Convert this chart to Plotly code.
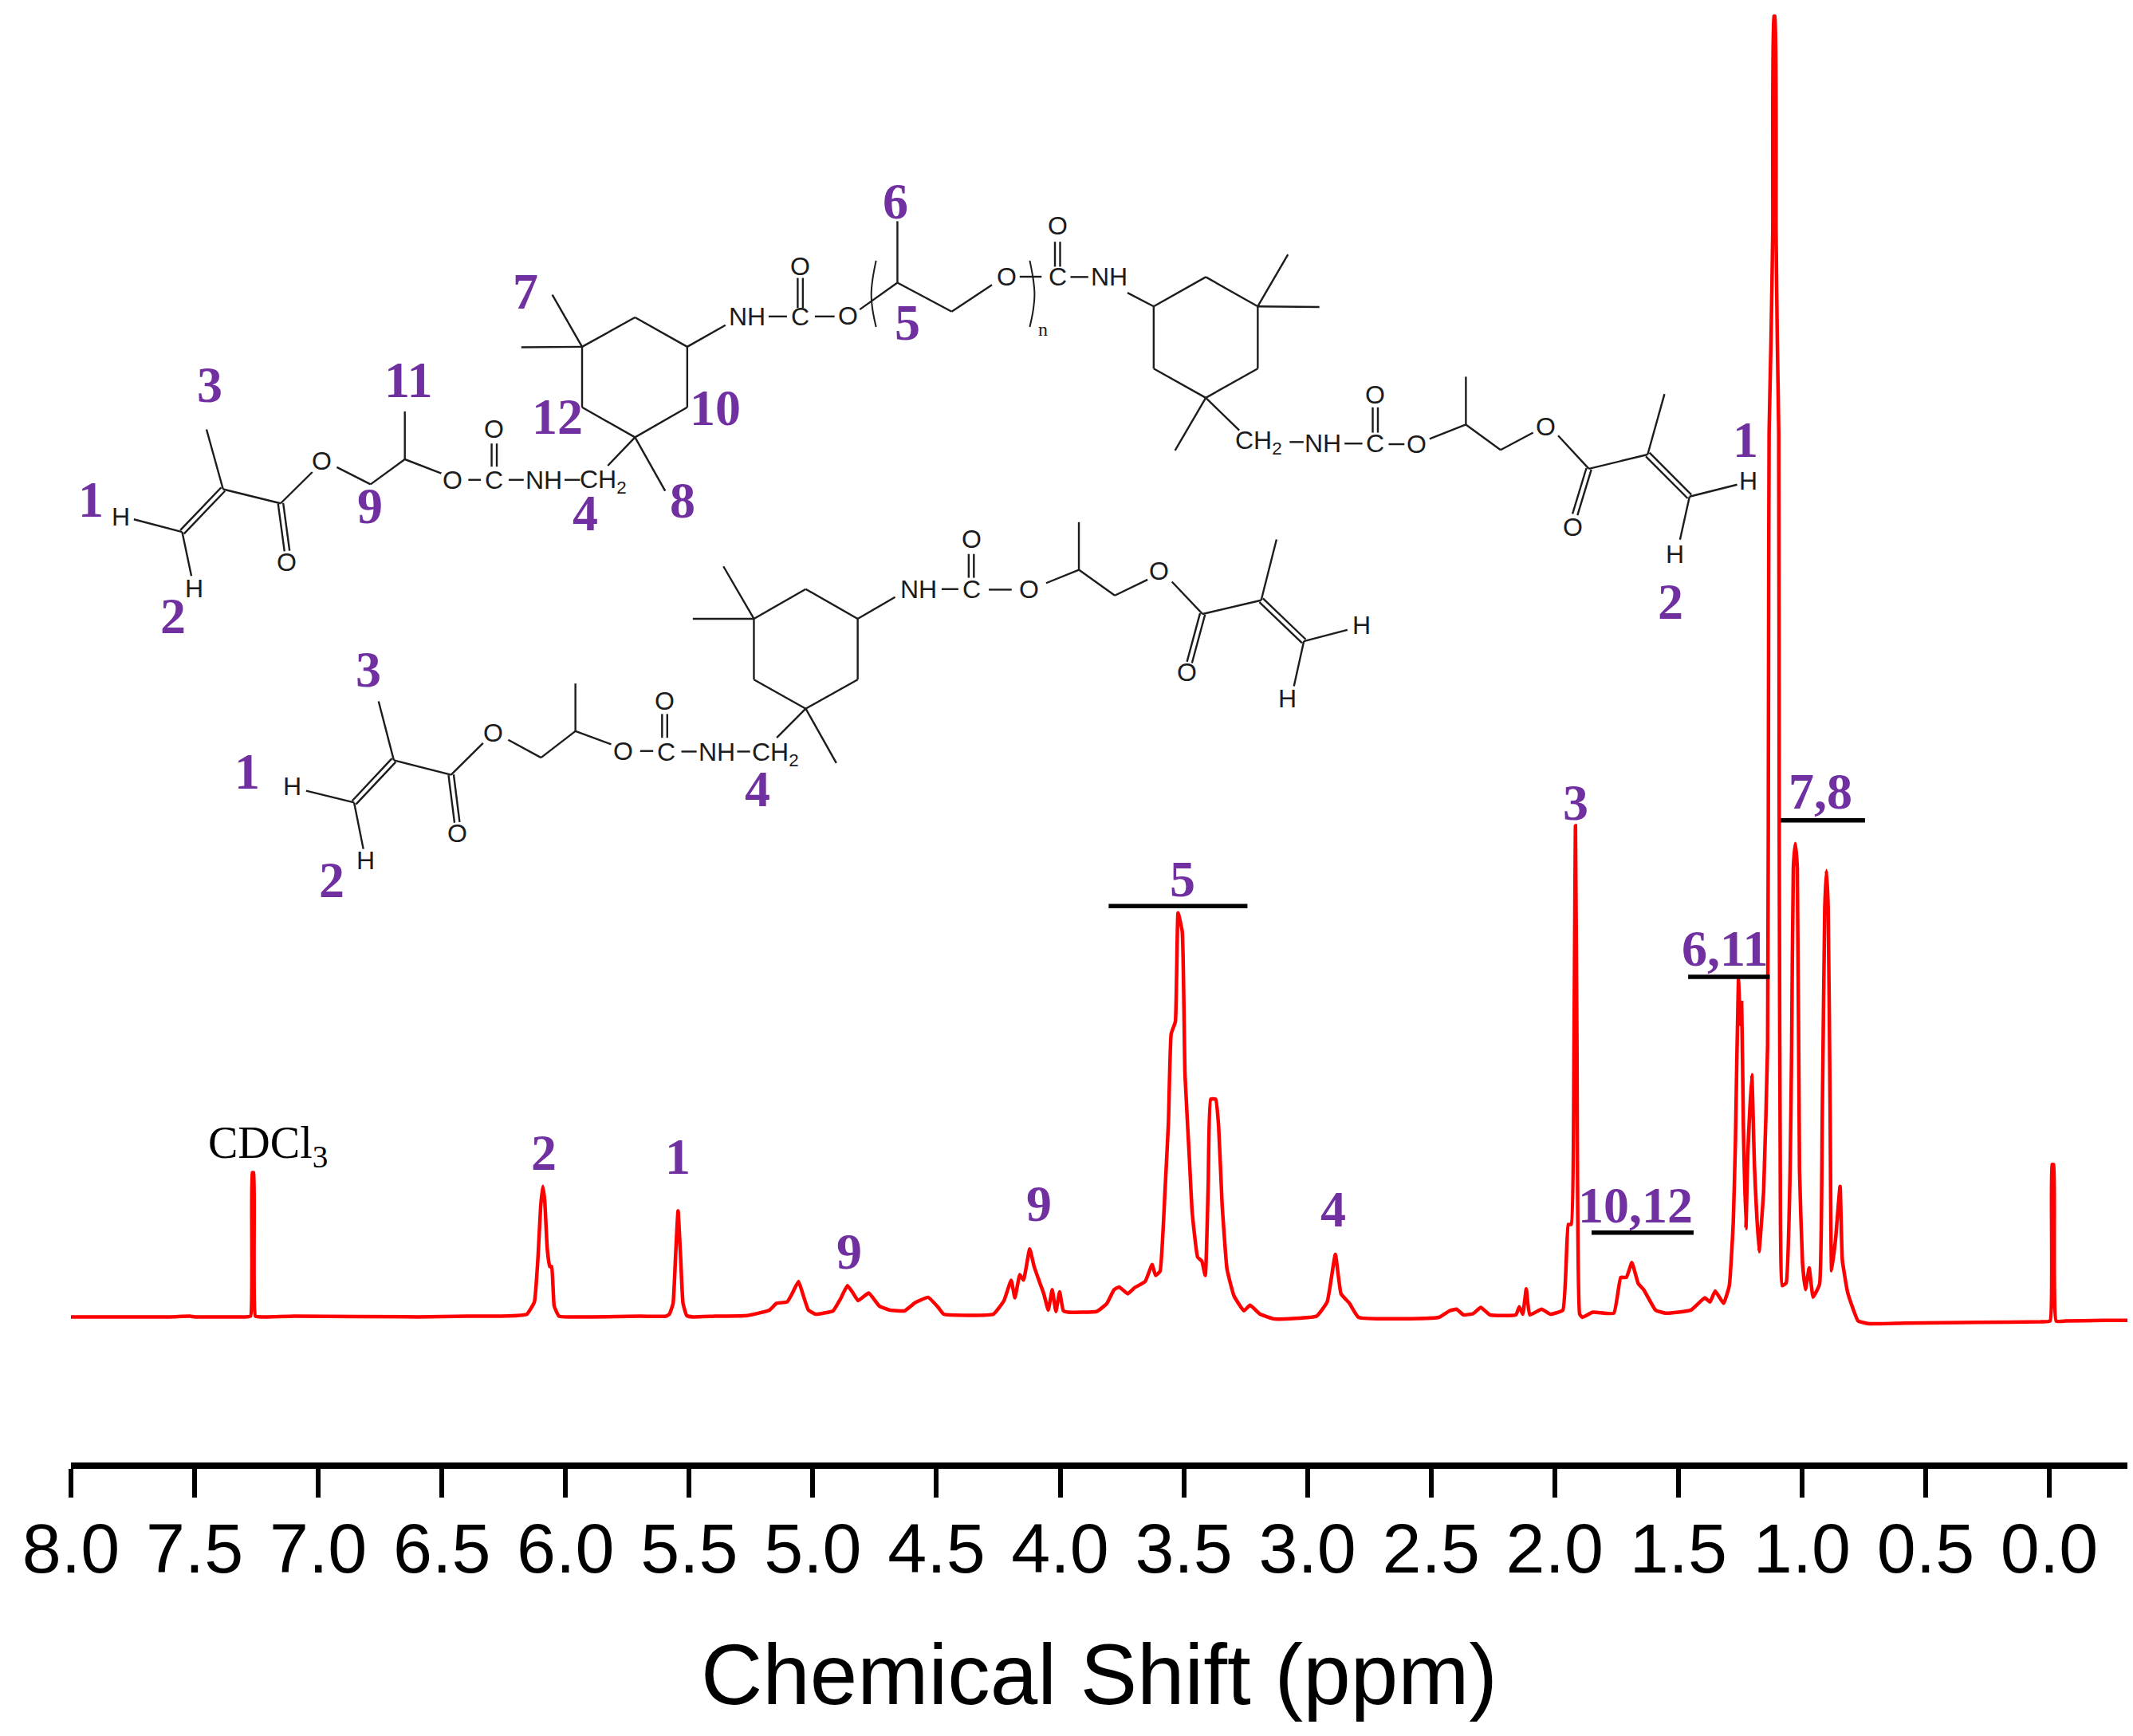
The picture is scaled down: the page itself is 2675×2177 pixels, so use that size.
import plotly.graph_objects as go

W, H = 2675, 2177

# --- spectrum values (ppm, relative intensity) ---
ppm_a = [8.0, 7.6, 7.52, 7.5, 7.3, 7.275, 7.268, 7.262, 7.255, 7.23, 7.1, 6.6, 6.4, 6.3, 6.2, 6.16, 6.13, 6.115, 6.105, 6.096, 6.088, 6.078, 6.068, 6.06, 6.05, 6.03, 5.9, 5.7, 5.6, 5.585, 5.57, 5.56, 5.55, 5.54, 5.53, 5.515, 5.49, 5.4]
int_a = [0, 0, 0.5, 0, 0, 0.5, 106, 106, 0.5, 0, 0.6, 0, 0.5, 0.5, 1, 2, 11, 45, 80, 96, 85, 50, 37, 37, 8, 0.5, 0, 0.5, 0.5, 2, 10, 45, 78, 45, 10, 1, 0, 0.5]
ppm_b = [5.27, 5.18, 5.153, 5.11, 5.09, 5.064, 5.045, 5.024, 4.995, 4.924, 4.895, 4.866, 4.845, 4.823, 4.78, 4.737, 4.694, 4.636, 4.593, 4.541, 4.5, 4.478, 4.277, 4.234, 4.205, 4.19, 4.17, 4.155, 4.13, 4.113, 4.09, 4.074, 4.056, 4.04, 4.025, 4.01, 3.995, 3.975]
int_b = [1, 5, 10, 11, 17, 26, 16, 5, 2, 4.5, 13, 23, 18, 12, 17.5, 8, 5, 4.5, 10.5, 14.4, 7, 2, 2, 12, 27, 14, 31, 27, 50, 37, 25, 17, 5, 20, 4, 18.5, 4.5, 3.5]
ppm_c = [3.86, 3.82, 3.79, 3.769, 3.735, 3.707, 3.664, 3.636, 3.622, 3.605, 3.585, 3.571, 3.56, 3.543, 3.532, 3.515, 3.504, 3.487, 3.475, 3.453, 3.436, 3.422, 3.41, 3.4, 3.38, 3.368, 3.354, 3.334, 3.306, 3.266, 3.241, 3.2, 3.142]
int_c = [4, 9.6, 20, 22, 17, 21.5, 26, 38.5, 30.5, 33.5, 92, 143, 208, 217, 297, 283, 178, 119, 77, 44, 41, 30.5, 98, 160, 160, 140, 83, 35, 15.5, 4.5, 8.6, 2, -1.5]
ppm_d = [2.973, 2.93, 2.897, 2.874, 2.84, 2.803, 2.48, 2.436, 2.408, 2.38, 2.34, 2.31, 2.273, 2.168, 2.154, 2.14, 2.126, 2.112, 2.064, 2.03, 1.979, 1.957, 1.945, 1.934, 1.928, 1.922, 1.911, 1.9, 1.858, 1.773, 1.745, 1.722, 1.7, 1.674, 1.652, 1.604, 1.561, 1.462, 1.406, 1.385, 1.364, 1.33, 1.307, 1.291]
int_d = [0.6, 11, 46, 17, 10, -0.3, -0.3, 4.5, 5.7, 1.5, 2.5, 7, 1.5, 1.5, 7.5, 2, 20.6, 1.5, 5.7, 2, 5, 68, 68, 200, 361, 200, 2, -0.3, 3.5, 2.7, 29, 29, 40, 24.5, 20, 5, 2.7, 5, 14, 11, 19, 10, 23, 69]
ppm_e = [1.282, 1.270, 1.262, 1.257, 1.25, 1.24, 1.232, 1.216, 1.205, 1.187, 1.168, 1.152, 1.148, 1.146, 1.138, 1.131, 1.127, 1.122, 1.118, 1.113, 1.107, 1.105, 1.1, 1.093, 1.077, 1.061, 1.055, 1.048, 1.04, 1.032, 1.023, 1.012, 1.0, 0.985, 0.969, 0.943, 0.932, 0.922, 0.915, 0.908, 0.9, 0.894, 0.878, 0.86, 0.851, 0.83, 0.809, 0.787, 0.744]
int_e = [130, 248, 215, 231, 140, 65, 120, 178, 110, 48, 93, 200, 500, 650, 720, 800, 956, 956, 800, 720, 650, 350, 69, 23, 25, 108, 196, 330, 348, 330, 108, 40, 20, 36, 14.5, 24, 147, 300, 328, 300, 147, 34, 57.5, 96, 42, 18.4, 6.7, -3, -5]
ppm_f = [0.6, 0.3, 0.05, 0.012, 0.004, -0.003, -0.012, -0.05, -0.2, -0.3]
int_f = [-4.5, -4, -3.5, -3, 112, 112, -3, -3, -2.5, -2.5]
# The readings above were taken at 310.7 px per ppm; the axis ticks give 310.1.
AXIS_READING_FACTOR = 310.7 / 310.1
spectrum_ppm = [round(8 - (8 - p) * AXIS_READING_FACTOR, 3) for p in ppm_a + ppm_b + ppm_c + ppm_d + ppm_e + ppm_f]
spectrum_int = int_a + int_b + int_c + int_d + int_e + int_f

tick_values = [8.0, 7.5, 7.0, 6.5, 6.0, 5.5, 5.0, 4.5, 4.0, 3.5, 3.0, 2.5, 2.0, 1.5, 1.0, 0.5, 0.0]
tick_labels = [f"{v:.1f}" for v in tick_values]
axis_title = "Chemical Shift (ppm)"

# --- peak assignment labels and bars (drawing coordinates of the 1568x1276 sheet) ---
label_text = ["1", "3", "2", "9", "11", "4", "12", "10", "8", "7", "6", "5", "1", "2",
              "3", "1", "2", "4",
              "5", "3", "7,8", "6,11", "10,12", "4", "9", "9", "1", "2"]
label_x = [67, 154, 127, 272, 300, 430, 410, 526, 502, 386, 658, 667, 1283, 1228,
           271, 182, 244, 557,
           869, 1158, 1338, 1268, 1202, 980, 764, 624, 498, 400]
label_y = [367, 283, 453, 372, 279, 377, 306, 300, 368, 214, 148, 237, 323, 442,
           492, 567, 647, 580,
           646, 590, 582, 697, 886, 889, 885, 920, 850, 847]
bar_x0 = [815, 1309, 1241, 1170]
bar_x1 = [917, 1371, 1301, 1245]
bar_y = [666, 603, 718, 906]

# --- structural formula drawn as an inset (same sheet coordinates) ---
single_bonds = [
    # top, left end group
    ((151.8, 315.6), (164, 359.6)), ((164, 359.6), (206.3, 370)), ((133.9, 391), (98.4, 381.7)),
    ((133.9, 391), (140.7, 423.4)), ((206.3, 370), (229.6, 347)), ((247.6, 343.4), (272.4, 356)),
    ((272.4, 356), (297.6, 337.6)), ((297.6, 337.6), (297.6, 302.4)), ((297.6, 337.6), (324.4, 348)),
    ((344.3, 352.7), (353.5, 352.7)), ((374, 352.7), (385, 352.7)), ((415, 352.7), (426.4, 352.7)),
    ((446.8, 342.3), (466.8, 321.4)),
    # top, left ring
    ((466.8, 321.4), (427.9, 299.4)), ((427.9, 299.4), (427.9, 254.9)), ((427.9, 254.9), (466.8, 233.3)),
    ((466.8, 233.3), (505.2, 254.9)), ((505.2, 254.9), (505.2, 299.4)), ((505.2, 299.4), (466.8, 321.4)),
    ((427.9, 254.9), (406, 216.6)), ((427.9, 254.9), (383.2, 255.3)), ((466.8, 321.4), (489, 360.8)),
    ((505.2, 254.9), (533.3, 239)),
    # top, middle chain
    ((565, 232.6), (578.5, 232.6)), ((599, 232.6), (613.5, 232.6)), ((632, 227.5), (659.7, 207.8)),
    ((659.7, 207.8), (659.7, 162.6)), ((659.7, 207.8), (699.6, 229)), ((699.6, 229), (729.2, 209.4)),
    ((749.6, 203.4), (765.7, 203.4)), ((786.9, 203.6), (800, 203.6)), ((828.8, 215.2), (848.1, 225.2)),
    # top, right ring
    ((848.1, 225.2), (886.4, 203.6)), ((886.4, 203.6), (924.6, 225.2)), ((924.6, 225.2), (924.6, 270.9)),
    ((924.6, 270.9), (886.4, 292.4)), ((886.4, 292.4), (848.1, 270.9)), ((848.1, 270.9), (848.1, 225.2)),
    ((924.6, 225.2), (946.8, 187)), ((924.6, 225.2), (969.9, 225.7)), ((886.4, 292.4), (863.8, 331.1)),
    ((886.4, 292.4), (911, 316.3)),
    # top, right end group
    ((948, 324.9), (958.3, 324.9)), ((988.4, 326), (1001.5, 326)), ((1020.8, 326.5), (1032.4, 326.5)),
    ((1050.9, 322.6), (1077.6, 312.1)), ((1077.6, 312.1), (1077.6, 276.9)), ((1077.6, 312.1), (1103.1, 330.7)),
    ((1103.1, 330.7), (1127, 318)), ((1145.4, 320.2), (1168, 344.6)), ((1168, 344.6), (1211.2, 334.1)),
    ((1211.2, 334.1), (1223.6, 289.6)), ((1242, 365), (1277, 356.2)), ((1242, 365), (1235, 396.7)),
    # lower molecule, right half
    ((692.2, 433), (704.5, 433)), ((726.9, 433.4), (743.7, 433.4)), ((769, 428.6), (793.1, 418.8)),
    ((793.1, 418.8), (793.1, 383.8)), ((793.1, 418.8), (819.5, 437.7)), ((819.5, 437.7), (843.6, 426)),
    ((861.5, 427.6), (884, 451.3)), ((884, 451.3), (927.1, 441.2)), ((927.1, 441.2), (938.4, 396.5)),
    ((958.5, 471.3), (990.5, 463)), ((958.5, 471.3), (951.2, 504.4)),
    # lower molecule, ring
    ((630.5, 454.8), (592.3, 433)), ((592.3, 433), (554.2, 454.8)), ((554.2, 454.8), (554.2, 499.5)),
    ((554.2, 499.5), (592.3, 520.9)), ((592.3, 520.9), (630.5, 499.5)), ((630.5, 499.5), (630.5, 454.8)),
    ((630.5, 454.8), (658, 438.9)), ((554.2, 454.8), (531.8, 416.3)), ((554.2, 454.8), (509.3, 454.8)),
    ((592.3, 520.9), (614.8, 560.8)), ((592.3, 520.9), (571, 542.3)),
    # lower molecule, left half
    ((541.9, 552.4), (551.4, 552.4)), ((500.9, 552.4), (512.1, 552.4)), ((470.6, 552), (480.2, 552)),
    ((449.3, 547.1), (423, 537.4)), ((423, 537.4), (423, 502.4)), ((423, 537.4), (397.7, 556.9)),
    ((397.7, 556.9), (373.6, 543.8)), ((355.1, 546.2), (331.6, 569.5)), ((331.6, 569.5), (289.5, 558.8)),
    ((289.5, 558.8), (278.3, 515.5)), ((260.3, 589.9), (225, 581.2)), ((260.3, 589.9), (267.1, 624)),
]
double_bonds = [
    ((164, 359.6), (133.9, 391)), ((206.3, 370), (211, 405)), ((363.3, 343), (363.3, 326)),
    ((588.3, 226.3), (588.3, 204.3)), ((777.4, 196), (777.4, 177.7)), ((1011, 318), (1011, 299.4)),
    ((1168, 344.6), (1157.8, 378.2)), ((1211.2, 334.1), (1242, 365)), ((714, 424.7), (714, 407.2)),
    ((884, 451.3), (874.4, 486.9)), ((927.1, 441.2), (958.5, 471.3)), ((488.6, 542.3), (488.6, 524.8)),
    ((331.6, 569.5), (336, 604.5)), ((289.5, 558.8), (260.3, 589.9)),
]
paren_left_x = [644, 641.5, 640.5, 641.5, 644]
paren_right_x = [757, 759.5, 760.5, 759.5, 757]
paren_y = [191.6, 205, 216, 228, 240.3]

atom_text = ["H", "H", "O", "O", "O", "C", "O", "NH", "CH<sub>2</sub>",
             "NH", "C", "O", "O", "O", "C", "O", "NH",
             "CH<sub>2</sub>", "NH", "C", "O", "O", "O", "O", "H", "H",
             "O", "C", "NH", "O", "O", "O", "H", "H",
             "CH<sub>2</sub>", "NH", "C", "O", "O", "O", "O", "H", "H"]
atom_x = [88.7, 143, 211, 236.4, 332.6, 363.3, 363.3, 399.7, 443.5,
          549.4, 588.3, 588.3, 623.3, 740, 777.4, 777.4, 815.2,
          925.5, 972.7, 1011, 1011, 1041.4, 1136.4, 1156.5, 1285.2, 1231,
          714, 714, 675.3, 756.7, 852, 872.7, 1000.6, 946.2,
          569.9, 526.7, 489.7, 488.6, 457.8, 362.4, 336, 214.9, 268.8]
atom_y = [380, 432.7, 413, 338.8, 352.7, 352.7, 315.6, 352.7, 354,
          232.6, 232.6, 195.8, 232, 203.6, 203.6, 166, 203.6,
          324.9, 326, 326, 290, 326.5, 313.3, 387.5, 353.4, 407.2,
          396, 433, 433, 433, 419.4, 494.1, 459.7, 513.5,
          554, 553, 553, 515.1, 552, 538.4, 612.3, 578.2, 632.7]

PURPLE = "#7030A0"
RED = "#FF0000"
INK = "#1c1c1c"
SANS = "Liberation Sans"
SERIF = "Liberation Serif"

bx, by = [], []
for p, q in single_bonds:
    bx += [p[0], q[0], None]
    by += [p[1], q[1], None]
for p, q in double_bonds:
    dx, dy = q[0] - p[0], q[1] - p[1]
    n = (dx * dx + dy * dy) ** 0.5
    ox, oy = -dy / n * 1.9, dx / n * 1.9
    for s in (1, -1):
        bx += [p[0] + s * ox, q[0] + s * ox, None]
        by += [p[1] + s * oy, q[1] + s * oy, None]

fig = go.Figure()
fig.add_trace(go.Scatter(x=spectrum_ppm, y=spectrum_int, mode="lines", hoverinfo="skip", showlegend=False,
                         line=dict(color=RED, width=4.5, simplify=False, shape="spline", smoothing=0.35),
                         xaxis="x", yaxis="y"))
fig.add_trace(go.Scatter(x=bx, y=by, mode="lines", hoverinfo="skip", showlegend=False,
                         line=dict(color=INK, width=2.4), xaxis="x2", yaxis="y2"))
for px in (paren_left_x, paren_right_x):
    fig.add_trace(go.Scatter(x=px, y=paren_y, mode="lines", hoverinfo="skip", showlegend=False,
                             line=dict(color=INK, width=2, shape="spline"), xaxis="x2", yaxis="y2"))
bar_xs, bar_ys = [], []
for a, b, y in zip(bar_x0, bar_x1, bar_y):
    bar_xs += [a, b, None]
    bar_ys += [y, y, None]
fig.add_trace(go.Scatter(x=bar_xs, y=bar_ys, mode="lines", hoverinfo="skip", showlegend=False,
                         line=dict(color="#000000", width=5.5), xaxis="x2", yaxis="y2"))

annotations = []
for t, x, y in zip(label_text, label_x, label_y):
    annotations.append(dict(text=f"<b>{t}</b>", x=x, y=y, xref="x2", yref="y2", showarrow=False,
                            xanchor="center", yanchor="middle",
                            font=dict(family=SERIF, size=64, color=PURPLE)))
for t, x, y in zip(atom_text, atom_x, atom_y):
    annotations.append(dict(text=t, x=x, y=y, xref="x2", yref="y2", showarrow=False,
                            xanchor="center", yanchor="middle",
                            font=dict(family=SANS, size=32, color=INK)))
annotations.append(dict(text="n", x=766.6, y=242, xref="x2", yref="y2", showarrow=False,
                        font=dict(family=SERIF, size=24, color=INK)))
annotations.append(dict(text="CDCl<sub>3</sub>", x=197, y=842, xref="x2", yref="y2", showarrow=False,
                        font=dict(family=SERIF, size=56, color="#000000")))

fig.update_layout(
    width=W, height=H, autosize=False,
    margin=dict(l=0, r=0, t=0, b=0),
    paper_bgcolor="white", plot_bgcolor="rgba(0,0,0,0)", showlegend=False,
    annotations=annotations,
    xaxis=dict(domain=[89 / W, 2668 / W], range=[8.0, -0.316], anchor="y",
               tickmode="array", tickvals=tick_values, ticktext=tick_labels,
               ticks="outside", ticklen=36, tickwidth=6, tickcolor="#000000",
               showline=True, linecolor="#000000", linewidth=8, showgrid=False, zeroline=False,
               tickfont=dict(family=SANS, size=88, color="#000000"), ticklabelstandoff=-12,
               title=dict(text=axis_title, standoff=75, font=dict(family=SANS, size=107, color="#000000")),
               automargin=False),
    yaxis=dict(domain=[1 - 1834 / H, 1], range=[-107, 968], anchor="x", visible=False, fixedrange=True),
    xaxis2=dict(domain=[0, 1], range=[0, 1568], anchor="y2", visible=False),
    yaxis2=dict(domain=[0, 1], range=[1276, 0], anchor="x2", visible=False),
)

fig.write_html("out.html", config={"displayModeBar": False}, post_script="document.body.style.margin='0';")
